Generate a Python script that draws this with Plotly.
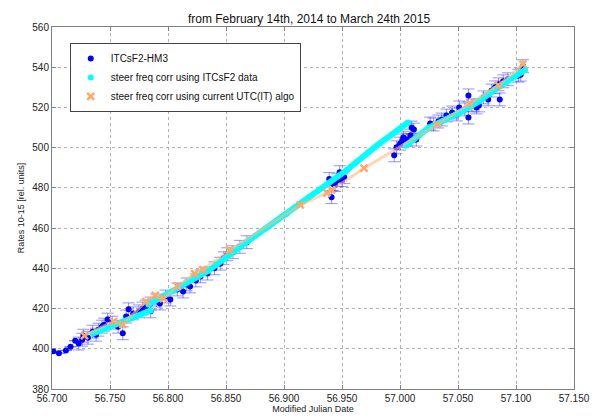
import plotly.graph_objects as go

title = "from February 14th, 2014 to March 24th 2015"

# ITCsF2-HM3 points (MJD, rate) with error
hm3_mjd = [56701, 56706, 56712, 56716, 56720, 56723, 56726, 56727, 56731, 56735, 56738, 56740,
           56743, 56745, 56748, 56752, 56757, 56761, 56764, 56766, 56770, 56775, 56778, 56781,
           56785, 56785, 56790, 56793, 56798, 56802, 56808, 56813, 56816, 56819, 56824, 56828,
           56834, 56840, 56845, 56848, 56851, 56856, 56862, 56868, 56939, 56941, 56942, 56944,
           56946, 56948, 56950, 56952, 56995, 56997, 57000, 57002, 57003, 57006, 57009, 57010,
           57012, 57014, 57026, 57029, 57033, 57036, 57040, 57045, 57049, 57051, 57056, 57059,
           57059, 57062, 57066, 57068, 57072, 57076, 57079, 57082, 57085, 57086, 57089, 57093,
           57102, 57104, 57106]
hm3_val = [398.8, 397.8, 399.2, 401.0, 404.0, 402.6, 404.5, 406.5, 405.5, 408.5, 407.0, 409.5,
           411.0, 412.0, 414.5, 413.0, 411.0, 407.7, 416.0, 419.6, 417.6, 418.6, 420.0, 421.0,
           422.5, 418.6, 424.0, 422.5, 426.0, 424.5, 429.5, 428.5, 432.0, 431.0, 434.0, 436.0,
           437.4, 440.0, 442.3, 445.0, 447.0, 448.0, 450.7, 453.0, 484.4, 475.4, 482.0, 481.4,
           483.8, 487.8, 483.8, 485.3, 496.2, 500.2, 502.0, 503.6, 505.0, 504.0, 506.0, 510.0,
           509.0, 504.0, 512.0, 511.5, 513.0, 514.0, 516.0, 517.5, 516.5, 520.0, 519.0, 526.0,
           515.0, 521.0, 520.0, 521.0, 525.0, 524.0, 528.4, 530.0, 531.5, 524.0, 533.0, 534.0,
           535.8, 536.3, 540.5]
hm3_err = [0.0] * 5 + [3.2] * (len(hm3_mjd) - 5)

# steer freq corr using ITCsF2 data (three segments, None = gap)
cyan_mjd = [56735, 56760, 56785, None,
            56783, 56810, 56834, 56870, 56902, 56922, 56954, 56980, 57007, None,
            57005, 57025, 57050, 57068, 57082, 57095, 57108]
cyan_val = [407.5, 413.0, 419.0, None,
            422.0, 431.0, 438.5, 454.0, 467.0, 475.4, 488.8, 501.0, 512.5, None,
            501.0, 510.0, 517.0, 523.0, 529.0, 534.0, 538.7]

# steer freq corr using current UTC(IT) algo
utc_mjd = [56728, 56753, 56761, 56781, 56789, 56796, 56808, 56823, 56830, 56853,
           56914, 56937, 56941, 56969, 57032, 57060, 57085, 57106]
utc_val = [406.5, 413.6, 412.1, 423.5, 426.5, 425.0, 431.0, 437.4, 439.3, 449.0,
           471.5, 477.5, 479.0, 489.8, 511.5, 522.0, 531.0, 541.5]

x_ticks = list(range(56700, 57151, 50))
y_ticks = list(range(380, 561, 20))

fig = go.Figure()

fig.add_trace(go.Scatter(
    x=hm3_mjd, y=hm3_val, mode="markers", name="ITCsF2-HM3",
    marker=dict(color="#0000ff", size=6),
    error_y=dict(type="data", array=hm3_err, color="rgba(40,40,255,0.5)", thickness=1, width=6),
))

fig.add_trace(go.Scatter(
    x=cyan_mjd, y=cyan_val, mode="lines", showlegend=False, legendgroup="cyan",
    line=dict(color="#00ffff", width=6), connectgaps=False, hoverinfo="skip",
))
fig.add_trace(go.Scatter(
    x=cyan_mjd, y=cyan_val, mode="markers", name="steer freq corr using ITCsF2 data",
    legendgroup="cyan", marker=dict(color="#00ffff", size=6),
))

fig.add_trace(go.Scatter(
    x=utc_mjd, y=utc_val, mode="lines", showlegend=False, legendgroup="utc",
    line=dict(color="rgba(255,185,130,0.6)", width=3), hoverinfo="skip",
))
fig.add_trace(go.Scatter(
    x=utc_mjd, y=utc_val, mode="markers", name="steer freq corr using current UTC(IT) algo",
    legendgroup="utc",
    marker=dict(color="#ffa868", size=7, symbol="x-thin", line=dict(color="#ffa868", width=2.5)),
))

axis_common = dict(
    showline=True, linecolor="#808080", linewidth=1, mirror="ticks",
    ticks="inside", ticklen=4, tickcolor="#808080",
    showgrid=True, gridcolor="#b0b0b0", griddash="dot", gridwidth=1,
    zeroline=False, tickfont=dict(size=10, color="#222"),
)

fig.update_layout(
    width=602, height=416,
    paper_bgcolor="white", plot_bgcolor="white",
    font=dict(family="Liberation Sans, Arial, sans-serif", color="#222"),
    separators=",.",
    title=dict(text=title, x=0.5, xanchor="center", y=0.985, yanchor="top",
               font=dict(size=12, color="#111")),
    margin=dict(l=41, r=36, t=19, b=33),
    xaxis=dict(range=[56700, 57150], tickvals=x_ticks, tickformat=",d",
               title=dict(text="Modified Julian Date", font=dict(size=9), standoff=2),
               **axis_common),
    yaxis=dict(range=[380, 560], tickvals=y_ticks,
               title=dict(text="Rates 10-15 [rel. units]", font=dict(size=9), standoff=6),
               **axis_common),
    legend=dict(x=0.034, y=0.956, xanchor="left", yanchor="top",
                bgcolor="white", bordercolor="#444", borderwidth=1,
                font=dict(size=10, color="#111"), tracegroupgap=0),
    showlegend=True,
)

fig.write_html("out.html")
